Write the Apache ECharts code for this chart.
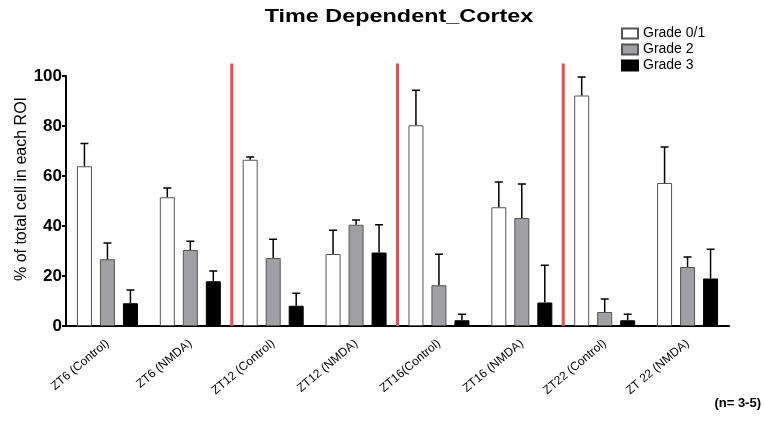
<!DOCTYPE html>
<html>
<head>
<meta charset="utf-8">
<script src="https://cdn.jsdelivr.net/npm/echarts@6/dist/echarts.min.js"></script>
<style>
  html, body { margin: 0; padding: 0; background: #fff; }
  #chart { width: 765px; height: 434px; }
</style>
</head>
<body>
<div id="chart"></div>
<script>
// 数据
var categories = ['ZT6 (Control)', 'ZT6 (NMDA)', 'ZT12 (Control)', 'ZT12 (NMDA)',
                  'ZT16(Control)', 'ZT16 (NMDA)', 'ZT22 (Control)', 'ZT 22 (NMDA)'];
var grade01 = [63.9, 51.5, 66.5, 28.8, 80.3, 47.5, 92.2, 57.2];
var grade01Err = [9.1, 3.7, 1.1, 9.5, 14.0, 10.1, 7.4, 14.4];
var grade2 = [26.7, 30.4, 27.2, 40.5, 16.3, 43.2, 5.6, 23.6];
var grade2Err = [6.5, 3.5, 7.5, 1.9, 12.4, 13.6, 5.2, 4.0];
var grade3 = [9.1, 17.9, 8.1, 29.4, 2.3, 9.4, 2.3, 19.0];
var grade3Err = [5.3, 4.1, 5.0, 11.1, 2.4, 14.9, 2.4, 11.7];
// 红色分隔线位置（组之间）
var dividers = [1.5, 3.5, 5.5];
var dividerTop = 105;

var barW = 15, gapPx = 8;

var chart = echarts.init(document.getElementById('chart'));

// 误差线（只画向上的一半）
function errSeries(name, means, errs, idx) {
  var data = means.map(function (m, i) { return [i, m, errs[i]]; });
  return {
    type: 'custom',
    name: name + ' err',
    xAxisIndex: 0,
    clip: false,
    z: 5,
    data: data,
    renderItem: function (params, api) {
      var off = (idx - 1) * (barW + gapPx);
      var base = api.coord([api.value(0), api.value(1)]);
      var top = api.coord([api.value(0), api.value(1) + api.value(2)]);
      var x = base[0] + off;
      return {
        type: 'group',
        children: [
          { type: 'line', shape: { x1: x, y1: base[1], x2: x, y2: top[1] },
            style: { stroke: '#000', lineWidth: 1.5 } },
          { type: 'line', shape: { x1: x - 4, y1: top[1], x2: x + 4, y2: top[1] },
            style: { stroke: '#000', lineWidth: 1.5 } }
        ]
      };
    }
  };
}

var option = {
  animation: false,
  legend: {
    orient: 'vertical',
    left: 616,
    top: 21,
    icon: 'rect',
    itemWidth: 16,
    itemHeight: 10,
    itemGap: 1,
    data: ['Grade 0/1', 'Grade 2', 'Grade 3'],
    textStyle: { fontFamily: 'Liberation Sans', fontSize: 14, lineHeight: 15, color: '#000' }
  },
  graphic: [{
    // 标题（原图横向拉伸）
    type: 'text',
    x: 399,
    y: 8,
    scaleX: 1.3,
    style: { text: 'Time Dependent_Cortex', font: 'bold 18px "Liberation Sans"', fill: '#000', align: 'center' }
  }, {
    type: 'text',
    right: 4,
    top: 397,
    style: { text: '(n= 3-5)', font: 'bold 13px "Liberation Sans"', fill: '#000' }
  }],
  grid: { left: 66, right: 36, top: 76, bottom: 108 },
  xAxis: [{
    type: 'category',
    data: categories,
    axisLine: { lineStyle: { color: '#000', width: 2 } },
    axisTick: { alignWithLabel: true, length: 4, lineStyle: { color: '#000', width: 2 } },
    axisLabel: { interval: 0, rotate: 40, fontFamily: 'Liberation Sans', fontSize: 12, color: '#000', margin: 16 }
  }, {
    type: 'value',
    min: -0.5,
    max: 7.5,
    show: false
  }],
  yAxis: {
    type: 'value',
    min: 0,
    max: 100,
    interval: 20,
    name: '% of total cell in each ROI',
    nameLocation: 'middle',
    nameGap: 36,
    nameMoveOverlap: false,
    nameTextStyle: { fontFamily: 'Liberation Sans', fontSize: 16, color: '#000', padding: [0, 0, 0, 24] },
    axisLine: { show: true, onZero: false, lineStyle: { color: '#000', width: 2 } },
    axisTick: { show: true, length: 4, lineStyle: { color: '#000', width: 2 } },
    axisLabel: { fontFamily: 'Liberation Sans', fontSize: 17, fontWeight: 'bold', color: '#000', margin: 4 },
    splitLine: { show: false }
  },
  series: [
    {
      name: 'Grade 0/1', type: 'bar', data: grade01, barWidth: barW, barGap: (gapPx / barW * 100) + '%',
      itemStyle: { color: '#fff', borderColor: '#555', borderWidth: 1 }
    },
    {
      name: 'Grade 2', type: 'bar', data: grade2, barWidth: barW,
      itemStyle: { color: '#a0a0a4', borderColor: '#555', borderWidth: 1 }
    },
    {
      name: 'Grade 3', type: 'bar', data: grade3, barWidth: barW,
      itemStyle: { color: '#000', borderColor: '#000', borderWidth: 1 }
    },
    errSeries('Grade 0/1', grade01, grade01Err, 0),
    errSeries('Grade 2', grade2, grade2Err, 1),
    errSeries('Grade 3', grade3, grade3Err, 2),
    {
      // 红色竖线
      type: 'custom',
      xAxisIndex: 1,
      clip: false,
      z: 1,
      data: dividers.map(function (d) { return [d]; }),
      renderItem: function (params, api) {
        var p0 = api.coord([api.value(0), 0]);
        var p1 = api.coord([api.value(0), dividerTop]);
        return { type: 'line', shape: { x1: p0[0], y1: p0[1], x2: p1[0], y2: p1[1] },
                 style: { stroke: '#f44', lineWidth: 3 } };
      }
    }
  ]
};

chart.setOption(option);
</script>
</body>
</html>
